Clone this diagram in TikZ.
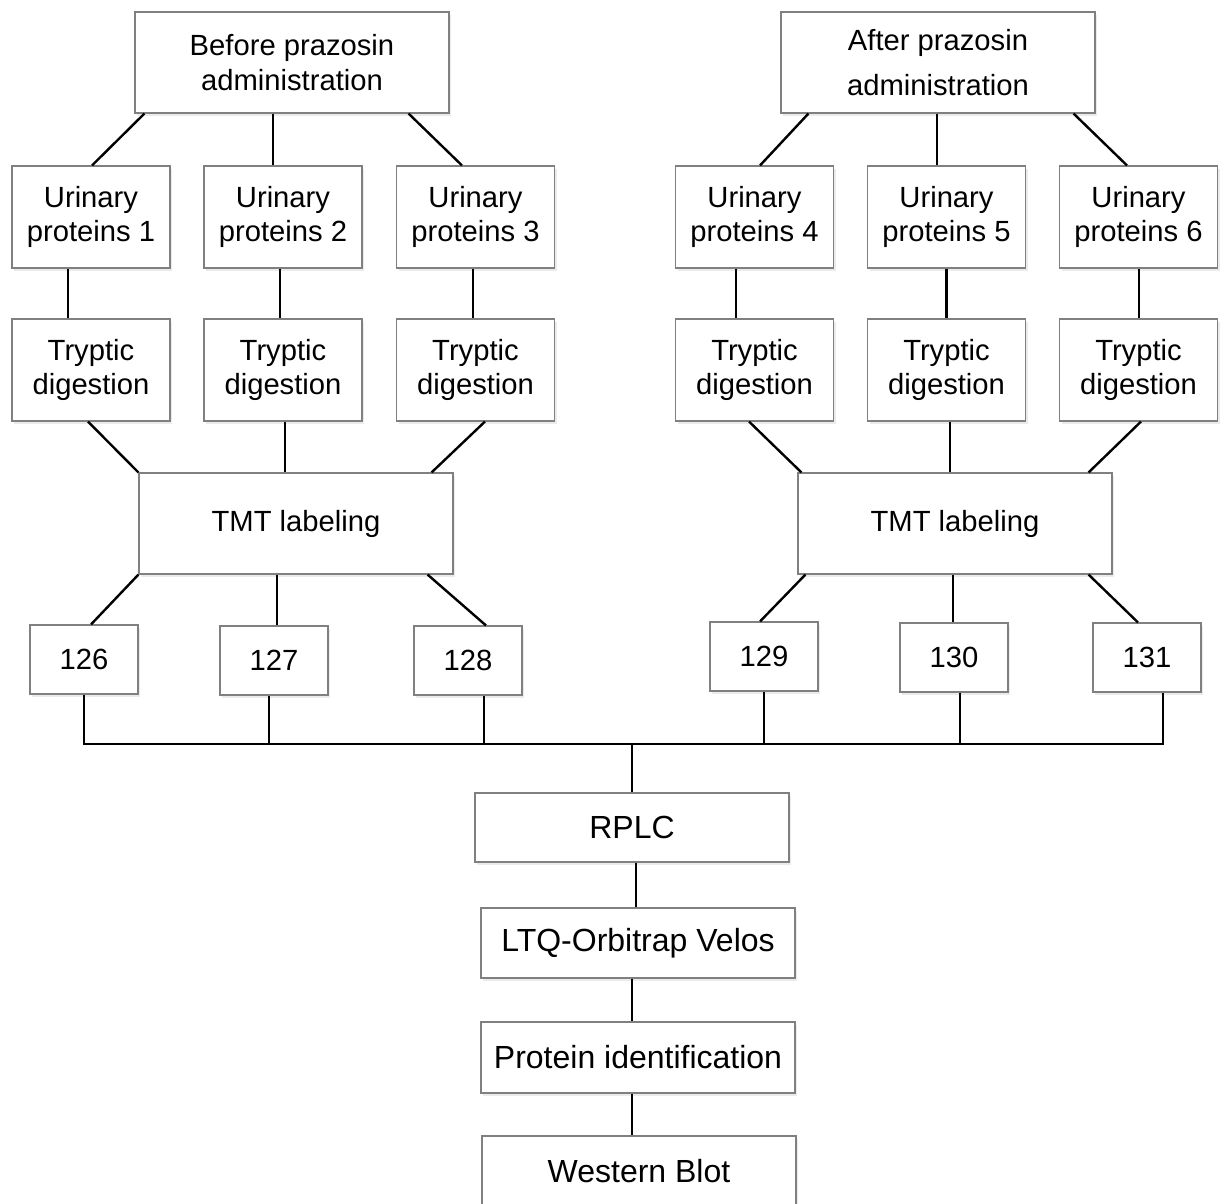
\documentclass[tikz,border=0pt]{standalone}
\usepackage{fontspec}
\setmainfont{Liberation Sans}
\usetikzlibrary{shadows}
\begin{document}
\begin{tikzpicture}[x=1pt,y=-1pt,
  box/.style={draw=black!50, line width=1.1pt, fill=white, inner sep=0pt, align=center,
    font=\fontsize{29.2}{34.5}\selectfont,
    drop shadow={shadow xshift=2pt, shadow yshift=-3pt, opacity=0.08, fill=black}},
  smallbox/.style={box, minimum width=158pt, minimum height=102pt},
  bigbox/.style={box, minimum width=314pt, minimum height=101pt},
  numbox/.style={box, minimum width=108pt, minimum height=69pt},
  procbox/.style={box, minimum width=314pt, minimum height=70pt, font=\fontsize{32}{38}\selectfont},
  conn/.style={draw=black, line width=2.4pt}]
\useasboundingbox (0,0) rectangle (1222,1203);
\fill[white] (0,0) rectangle (1222,1203);

% top boxes
\node[bigbox] (bp) at (292,62.5) {Before prazosin\\administration};
\node[bigbox] (ap) at (938,62.5) {After prazosin\\[11pt]administration};

% urinary proteins
\node[smallbox] (u1) at (91,217) {Urinary\\proteins 1};
\node[smallbox] (u2) at (283,217) {Urinary\\proteins 2};
\node[smallbox] (u3) at (475.5,217) {Urinary\\proteins 3};
\node[smallbox] (u4) at (754.5,217) {Urinary\\proteins 4};
\node[smallbox] (u5) at (946.5,217) {Urinary\\proteins 5};
\node[smallbox] (u6) at (1138.5,217) {Urinary\\proteins 6};

% tryptic digestion
\node[smallbox] (t1) at (91,370) {Tryptic\\digestion};
\node[smallbox] (t2) at (283,370) {Tryptic\\digestion};
\node[smallbox] (t3) at (475.5,370) {Tryptic\\digestion};
\node[smallbox] (t4) at (754.5,370) {Tryptic\\digestion};
\node[smallbox] (t5) at (946.5,370) {Tryptic\\digestion};
\node[smallbox] (t6) at (1138.5,370) {Tryptic\\digestion};

% TMT
\node[bigbox] (tmtL) at (296,523.5) {TMT labeling};
\node[bigbox] (tmtR) at (955,523.5) {TMT labeling};

% channels
\node[numbox] (n126) at (84,659.5) {126};
\node[numbox] (n127) at (274,660.5) {127};
\node[numbox] (n128) at (468,660.5) {128};
\node[numbox] (n129) at (764,656.5) {129};
\node[numbox] (n130) at (954,657.5) {130};
\node[numbox] (n131) at (1147,657.5) {131};

% pipeline
\node[procbox, minimum height=69pt] (rplc) at (632,827.5) {RPLC};
\node[procbox] (ltq) at (638,943) {LTQ-Orbitrap Velos};
\node[procbox, minimum height=71pt] (pid) at (638,1057.5) {Protein identification};
\node[procbox] (wb) at (639,1171) {Western Blot};

% connectors: top to urinary
\draw[conn] ([xshift=10pt]bp.south west) -- ([xshift=1pt]u1.north);
\draw[conn] ([xshift=-10pt]u2.north |- bp.south) -- ([xshift=-10pt]u2.north);
\draw[conn] ([xshift=-41pt]bp.south east) -- ([xshift=-13.5pt]u3.north);
\draw[conn] ([xshift=28pt]ap.south west) -- ([xshift=5.5pt]u4.north);
\draw[conn] ([xshift=-1pt]ap.south) -- ([xshift=-1pt]ap.south |- u5.north);
\draw[conn] ([xshift=-22pt]ap.south east) -- ([xshift=-11.5pt]u6.north);

% urinary to tryptic
\draw[conn] ([xshift=-23pt]u1.south) -- ([xshift=-23pt]t1.north);
\draw[conn] ([xshift=-3pt]u2.south) -- ([xshift=-3pt]t2.north);
\draw[conn] ([xshift=-2.5pt]u3.south) -- ([xshift=-2.5pt]t3.north);
\draw[conn] ([xshift=-18.5pt]u4.south) -- ([xshift=-18.5pt]t4.north);
\draw[conn] (u5.south) -- (t5.north);
\draw[conn] ([xshift=0.5pt]u6.south) -- ([xshift=0.5pt]t6.north);

% tryptic to TMT
\draw[conn] ([xshift=-3pt]t1.south) -- (tmtL.north west);
\draw[conn] ([xshift=2pt]t2.south) -- ([xshift=2pt]t2.south |- tmtL.north);
\draw[conn] ([xshift=9.5pt]t3.south) -- ([xshift=-22pt]tmtL.north east);
\draw[conn] ([xshift=-5.5pt]t4.south) -- ([xshift=4pt]tmtR.north west);
\draw[conn] ([xshift=3.5pt]t5.south) -- ([xshift=3.5pt]t5.south |- tmtR.north);
\draw[conn] ([xshift=2.5pt]t6.south) -- ([xshift=-24pt]tmtR.north east);

% TMT to channels
\draw[conn] (tmtL.south west) -- ([xshift=7pt]n126.north);
\draw[conn] ([xshift=3pt]n127.north |- tmtL.south) -- ([xshift=3pt]n127.north);
\draw[conn] ([xshift=-26pt]tmtL.south east) -- ([xshift=18pt]n128.north);
\draw[conn] ([xshift=8pt]tmtR.south west) -- ([xshift=-4pt]n129.north);
\draw[conn] ([xshift=-1pt]n130.north |- tmtR.south) -- ([xshift=-1pt]n130.north);
\draw[conn] ([xshift=-24pt]tmtR.south east) -- ([xshift=-9pt]n131.north);

% bus
\coordinate (bus) at (632,744);
\draw[conn] (n126.south) |- (bus) -| ([xshift=16pt]n131.south);
\draw[conn] ([xshift=-5pt]n127.south) -- ([xshift=-5pt]n127.south |- bus);
\draw[conn] ([xshift=16pt]n128.south) -- ([xshift=16pt]n128.south |- bus);
\draw[conn] (n129.south) -- (n129.south |- bus);
\draw[conn] ([xshift=6pt]n130.south) -- ([xshift=6pt]n130.south |- bus);
\draw[conn] (bus) -- (bus |- rplc.north);

% pipeline connectors
\draw[conn] ([xshift=4pt]rplc.south) -- ([xshift=-2pt]ltq.north);
\draw[conn] ([xshift=-6pt]ltq.south) -- ([xshift=-6pt]pid.north);
\draw[conn] ([xshift=-6pt]pid.south) -- ([xshift=-7pt]wb.north);
\end{tikzpicture}
\end{document}
